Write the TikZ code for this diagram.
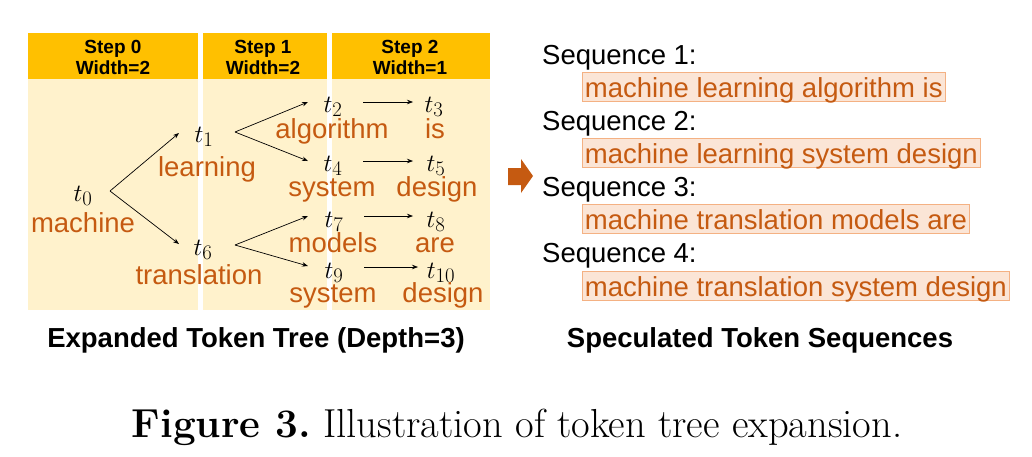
\documentclass[tikz,border=0pt]{standalone}
\usepackage{fontspec}
\usepackage{amsmath}
\newfontfamily\arialf{Liberation Sans}
\usetikzlibrary{arrows.meta}
\definecolor{hdr}{HTML}{FFC000}
\definecolor{bodyc}{HTML}{FFF2CC}
\definecolor{org}{HTML}{C55A11}
\definecolor{boxfill}{HTML}{FBE5D6}
\definecolor{boxline}{HTML}{F4B183}
\tikzset{
  hdrtext/.style={font=\arialf\bfseries\fontsize{19}{21}\selectfont, align=center, inner sep=0pt},
  tok/.style={font=\fontsize{28}{28}\selectfont, inner sep=0pt, anchor=base},
  word/.style={font=\arialf\fontsize{27.5}{27.5}\selectfont, text=org, inner sep=0pt, anchor=base},
  arr/.style={-{Stealth[length=6pt,width=4.5pt]}, line width=0.7pt, black},
  seqlbl/.style={font=\arialf\fontsize{27.5}{27.5}\selectfont, inner sep=0pt, anchor=base west},
  seqbox/.style={font=\arialf\fontsize{27.5}{27.5}\selectfont, text=org, fill=boxfill, draw=boxline, line width=0.9pt, inner xsep=2.5pt, inner ysep=0pt, text height=24.5pt, text depth=4.5pt, anchor=base west},
  captxt/.style={font=\arialf\bfseries\fontsize{27.5}{27.5}\selectfont, inner sep=0pt, anchor=base}
}
\begin{document}
\frenchspacing
\begin{tikzpicture}[x=1pt,y=-1pt]
\useasboundingbox (0,0) rectangle (1032,456);
% columns
\fill[bodyc] (28,79) rectangle (198,310);
\fill[bodyc] (203,79) rectangle (327,310);
\fill[bodyc] (332,79) rectangle (490,310);
\fill[hdr] (28,33) rectangle (198,79);
\fill[hdr] (203,33) rectangle (327,79);
\fill[hdr] (332,33) rectangle (490,79);
\node[hdrtext] (h0) at (113,57) {Step 0\\[0pt]Width=2};
\node[hdrtext] (h1) at (263,57) {Step 1\\[0pt]Width=2};
\node[hdrtext] (h2) at (410,57) {Step 2\\[0pt]Width=1};
% tokens
\node[tok] (t0) at (83,201) {$t_0$};
\node[tok] (t1) at (204,142) {$t_1$};
\node[tok] (t6) at (203,255) {$t_6$};
\node[tok] (t2) at (333,112) {$t_2$};
\node[tok] (t3) at (434,112) {$t_3$};
\node[tok] (t4) at (333,171) {$t_4$};
\node[tok] (t5) at (436,171) {$t_5$};
\node[tok] (t7) at (334,227) {$t_7$};
\node[tok] (t8) at (436,227) {$t_8$};
\node[tok] (t9) at (334,278) {$t_9$};
\node[tok] (t10) at (441,278) {$t_{10}$};
% words
\node[word] (w0) at (83,232) {machine};
\node[word] (w1) at (207,176) {learning};
\node[word] (w6) at (199,284) {translation};
\node[word] (w2) at (332,138) {algorithm};
\node[word] (w3) at (435,138) {is};
\node[word] (w4) at (332,196) {system};
\node[word] (w5) at (437,196) {design};
\node[word] (w7) at (333,252) {models};
\node[word] (w8) at (435,252) {are};
\node[word] (w9) at (333,302) {system};
\node[word] (w10) at (443,302) {design};
% arrows
\draw[arr] ([xshift=27pt,yshift=10pt]t0.base) -- ([xshift=-25pt,yshift=9pt]t1.base);
\draw[arr] ([xshift=27pt,yshift=10pt]t0.base) -- ([xshift=-24pt,yshift=11pt]t6.base);
\draw[arr] ([xshift=31pt,yshift=10pt]t1.base) -- ([xshift=-25pt,yshift=10pt]t2.base);
\draw[arr] ([xshift=31pt,yshift=10pt]t1.base) -- ([xshift=-25pt,yshift=10pt]t4.base);
\draw[arr] ([xshift=32pt,yshift=10pt]t6.base) -- ([xshift=-26pt,yshift=11pt]t7.base);
\draw[arr] ([xshift=32pt,yshift=10pt]t6.base) -- ([xshift=-26pt,yshift=12pt]t9.base);
\draw[arr] ([xshift=30pt,yshift=10pt]t2.base) -- ([xshift=-21pt,yshift=10pt]t3.base);
\draw[arr] ([xshift=30pt,yshift=10pt]t4.base) -- ([xshift=-23pt,yshift=10pt]t5.base);
\draw[arr] ([xshift=30pt,yshift=11pt]t7.base) -- ([xshift=-23pt,yshift=11pt]t8.base);
\draw[arr] ([xshift=30pt,yshift=11pt]t9.base) -- ([xshift=-23pt,yshift=11pt]t10.base);
% block arrow
\fill[org] (508,168) -- (521,168) -- (521,159) -- (533,176) -- (521,193) -- (521,185) -- (508,185) -- cycle;
% sequences
\node[seqlbl] (s1) at (542,64) {Sequence 1:};
\node[seqbox] (b1) at (582,97) {machine learning algorithm is};
\node[seqlbl] (s2) at (542,130) {Sequence 2:};
\node[seqbox] (b2) at (582,163) {machine learning system design};
\node[seqlbl] (s3) at (542,196) {Sequence 3:};
\node[seqbox] (b3) at (582,229) {machine translation models are};
\node[seqlbl] (s4) at (542,262) {Sequence 4:};
\node[seqbox] (b4) at (582,296) {machine translation system design};
% captions
\node[captxt] (c1) at (256,347) {Expanded Token Tree (Depth=3)};
\node[captxt] (c2) at (760,347) {Speculated Token Sequences};
\node[font=\fontsize{40.5}{40.5}\selectfont, inner sep=0pt, anchor=base] (fc) at (517,437) {\textbf{Figure 3.} Illustration of token tree expansion.};
\end{tikzpicture}
\end{document}
